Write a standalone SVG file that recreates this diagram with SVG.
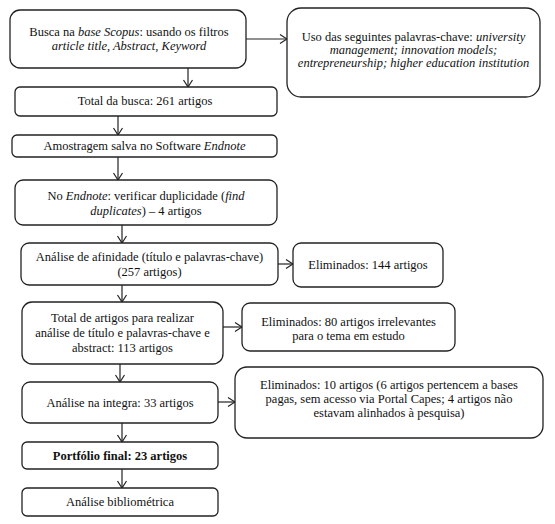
<svg xmlns="http://www.w3.org/2000/svg" width="555" height="524" viewBox="0 0 555 524">
<defs>
<marker id="arr" markerUnits="userSpaceOnUse" markerWidth="12" markerHeight="12" viewBox="0 0 12 12" refX="11" refY="6" orient="auto">
<path d="M4,1.5 L11,6 L4,10.5" fill="none" stroke="#222" stroke-width="1.2"/>
</marker>
</defs>
<style>
rect{fill:#fff;stroke:#222;stroke-width:1.3}
text{font-size:12.5px;fill:#111;text-anchor:middle}
.i{font-style:italic}
.b{font-weight:bold}
#connectors line{stroke:#222;stroke-width:1.2;marker-end:url(#arr)}
</style>
<rect width="555" height="524" style="fill:#fff;stroke:none"/>
<g id="connectors">
<line x1="246" y1="39" x2="287" y2="39"/>
<line x1="188" y1="68" x2="188" y2="87"/>
<line x1="118" y1="116" x2="118" y2="135"/>
<line x1="118" y1="157" x2="118" y2="180"/>
<line x1="122" y1="225" x2="122" y2="243"/>
<line x1="278" y1="264" x2="293" y2="264"/>
<line x1="122" y1="285" x2="122" y2="302"/>
<line x1="223" y1="327" x2="242" y2="327"/>
<line x1="120" y1="364" x2="120" y2="382"/>
<line x1="218" y1="402" x2="235" y2="402"/>
<line x1="122" y1="423" x2="122" y2="442"/>
<line x1="122" y1="469" x2="122" y2="488"/>
</g>
<g id="n1" font-family="Liberation Serif">
<rect x="10" y="10" width="236" height="58" rx="10"/>
<text x="129" y="36">Busca na <tspan class="i">base Scopus</tspan>: usando os filtros</text>
<text x="129" y="50" class="i">article title, Abstract, Keyword</text>
</g>
<g id="n2" font-family="Liberation Serif">
<rect x="287" y="8" width="253" height="89" rx="14"/>
<text x="413.5" y="41">Uso das seguintes palavras-chave: <tspan class="i">university</tspan></text>
<text x="413.5" y="54" class="i">management; innovation models;</text>
<text x="413.5" y="67" class="i">entrepreneurship; higher education institution</text>
</g>
<g id="n3" font-family="Liberation Serif">
<rect x="15" y="87" width="262" height="29" rx="5"/>
<text x="145" y="105">Total da busca: 261 artigos</text>
</g>
<g id="n4" font-family="Liberation Serif">
<rect x="12" y="135" width="265" height="22" rx="5"/>
<text x="144.5" y="150">Amostragem salva no Software <tspan class="i">Endnote</tspan></text>
</g>
<g id="n5" font-family="Liberation Serif">
<rect x="15" y="180" width="262" height="45" rx="8"/>
<text x="146" y="200">No <tspan class="i">Endnote</tspan>: verificar duplicidade (<tspan class="i">find</tspan></text>
<text x="146" y="215"><tspan class="i">duplicates</tspan>) – 4 artigos</text>
</g>
<g id="n6" font-family="Liberation Serif">
<rect x="21" y="243" width="257" height="42" rx="8"/>
<text x="149.5" y="261">Análise de afinidade (título e palavras-chave)</text>
<text x="149.5" y="276">(257 artigos)</text>
</g>
<g id="n7" font-family="Liberation Serif">
<rect x="293" y="243" width="150" height="44" rx="8"/>
<text x="368" y="269">Eliminados: 144 artigos</text>
</g>
<g id="n8" font-family="Liberation Serif">
<rect x="22" y="302" width="201" height="62" rx="10"/>
<text x="122.5" y="322">Total de artigos para realizar</text>
<text x="122.5" y="337">análise de título e palavras-chave e</text>
<text x="122.5" y="352">abstract: 113 artigos</text>
</g>
<g id="n9" font-family="Liberation Serif">
<rect x="242" y="303" width="213" height="48" rx="8"/>
<text x="348.5" y="326">Eliminados: 80 artigos irrelevantes</text>
<text x="348.5" y="340">para o tema em estudo</text>
</g>
<g id="n10" font-family="Liberation Serif">
<rect x="22" y="382" width="196" height="41" rx="8"/>
<text x="120" y="407">Análise na integra: 33 artigos</text>
</g>
<g id="n11" font-family="Liberation Serif">
<rect x="235" y="367" width="308" height="71" rx="12"/>
<text x="389" y="389">Eliminados: 10 artigos (6 artigos pertencem a bases</text>
<text x="389" y="403">pagas, sem acesso via Portal Capes; 4 artigos não</text>
<text x="389" y="417">estavam alinhados à pesquisa)</text>
</g>
<g id="n12" font-family="Liberation Serif">
<rect x="22" y="442" width="196" height="27" rx="5"/>
<text x="120" y="460" class="b">Portfólio final: 23 artigos</text>
</g>
<g id="n13" font-family="Liberation Serif">
<rect x="22" y="488" width="196" height="28" rx="5"/>
<text x="120" y="506">Análise bibliométrica</text>
</g>
</svg>
